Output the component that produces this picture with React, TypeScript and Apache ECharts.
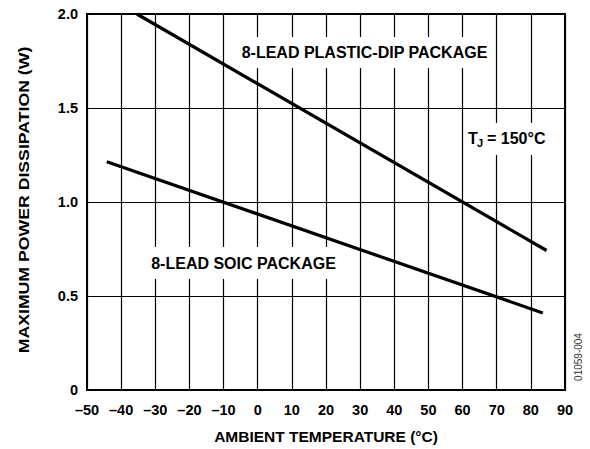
import React, { useEffect, useRef } from "react";
import * as echarts from "echarts";

const xTicks = [-50, -40, -30, -20, -10, 0, 10, 20, 30, 40, 50, 60, 70, 80, 90];
const yTicks = [0, 0.5, 1.0, 1.5, 2.0];
const dipTemps = [-35.4, 84.6];
const dipPower = [2.0, 0.742];
const soicTemps = [-44.2, 83.5];
const soicPower = [1.214, 0.41];
const xTitle = "AMBIENT TEMPERATURE (°C)";
const yTitle = "MAXIMUM POWER DISSIPATION (W)";
const dipLabel = "8-LEAD PLASTIC-DIP PACKAGE";
const soicLabel = "8-LEAD SOIC PACKAGE";
const codeLabel = "01059-004";

const FONT = "Liberation Sans, Arial, Helvetica, sans-serif";

export default function App() {
  const ref = useRef<HTMLDivElement>(null);
  useEffect(() => {
    if (!ref.current) return;
    const chart = echarts.init(ref.current, null, { renderer: "svg" });
    const pair = (xs: number[], ys: number[]) => xs.map((x, i) => [x, ys[i]]);
    const white = (x: number, y: number, w: number, h: number) => ({
      type: "rect",
      z: 1,
      shape: { x, y, width: w, height: h },
      style: { fill: "#fff" },
    });
    const txt = (x: number, y: number, text: string, size: number, align = "center", weight = "bold", fill = "#000") => ({
      type: "text",
      z: 5,
      x,
      y,
      style: {
        text,
        fill,
        font: `${weight} ${size}px ${FONT}`,
        textAlign: align,
        textVerticalAlign: "middle",
      },
    });
    chart.setOption({
      animation: false,
      backgroundColor: "#fff",
      grid: {
        left: 87,
        right: 25,
        top: 14,
        bottom: 53.5,
        show: true,
        borderColor: "#000",
        borderWidth: 2,
        backgroundColor: "transparent",
        z: 3,
      },
      xAxis: {
        type: "value",
        min: xTicks[0],
        max: xTicks[xTicks.length - 1],
        interval: 10,
        axisLine: { show: false },
        axisTick: { show: false },
        splitLine: { show: true, lineStyle: { color: "#000", width: 1.2 } },
        axisLabel: {
          margin: 12,
          color: "#000",
          fontWeight: "bold",
          fontSize: 14.5,
          fontFamily: FONT,
          formatter: (v: number) => (v < 0 ? "\u2013" + Math.abs(v) : String(v)),
        },
        name: xTitle,
        nameLocation: "middle",
        nameGap: 38,
        nameTextStyle: { color: "#000", fontWeight: "bold", fontSize: 15.5, fontFamily: FONT },
      },
      yAxis: {
        type: "value",
        min: yTicks[0],
        max: yTicks[yTicks.length - 1],
        interval: 0.5,
        axisLine: { show: false },
        axisTick: { show: false },
        splitLine: { show: true, lineStyle: { color: "#000", width: 1.2 } },
        axisLabel: {
          margin: 9,
          color: "#000",
          fontWeight: "bold",
          fontSize: 14.5,
          fontFamily: FONT,
          formatter: (v: number) => (v === 0 ? "0" : v.toFixed(1)),
        },
      },
      series: [
        {
          type: "line",
          name: "DIP",
          data: pair(dipTemps, dipPower),
          showSymbol: false,
          z: 4,
          lineStyle: { color: "#000", width: 3.2 },
        },
        {
          type: "line",
          name: "SOIC",
          data: pair(soicTemps, soicPower),
          showSymbol: false,
          z: 4,
          lineStyle: { color: "#000", width: 3.2 },
        },
      ],
      graphic: [
        {
          type: "text",
          z: 5,
          x: 24,
          y: 200,
          rotation: Math.PI / 2,
          scaleX: 1.22,
          style: {
            text: yTitle,
            fill: "#000",
            font: `bold 14.5px ${FONT}`,
            textAlign: "center",
            textVerticalAlign: "middle",
          },
        },
        white(233, 37, 261, 31),
        txt(364.5, 52.5, dipLabel, 16),
        white(466, 123, 89, 32),
        txt(468, 138.5, "T", 16, "left"),
        txt(477, 143, "J", 11, "left"),
        txt(487, 138.5, "= 150°C", 16, "left"),
        white(126, 247, 224, 32),
        txt(243.5, 263, soicLabel, 16),
        {
          type: "text",
          z: 5,
          x: 578,
          y: 357,
          rotation: Math.PI / 2,
          style: {
            text: codeLabel,
            fill: "#333",
            font: `normal 10px ${FONT}`,
            textAlign: "center",
            textVerticalAlign: "middle",
          },
        },
      ],
    });
    return () => chart.dispose();
  }, []);
  return <div ref={ref} style={{ position: "absolute", left: 0, top: 0, width: 590, height: 449 }} />;
}
